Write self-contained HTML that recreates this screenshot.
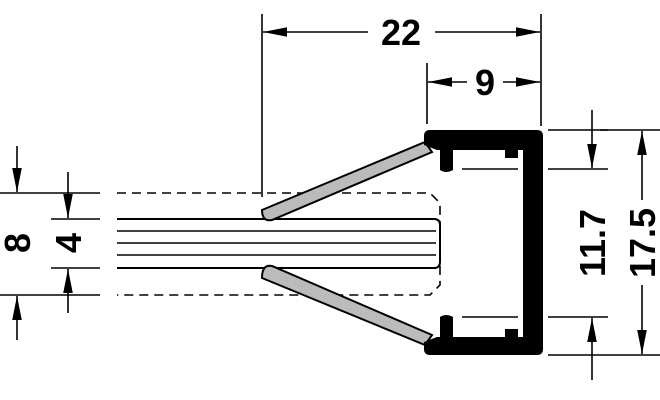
<!DOCTYPE html>
<html><head><meta charset="utf-8"><style>body{margin:0;background:#fff}svg{display:block}</style></head>
<body>
<svg width="660" height="400" viewBox="0 0 660 400" xmlns="http://www.w3.org/2000/svg" font-family="Liberation Sans, sans-serif" font-weight="bold">
<defs>
<marker id="b" viewBox="0 0 20 10" refX="20" refY="5" markerWidth="24" markerHeight="12" markerUnits="userSpaceOnUse" orient="auto-start-reverse"><path d="M0,1 L20,5 L0,9z" fill="#000"/></marker>
</defs>
<g stroke="#000" stroke-width="1.6" fill="none">
<line x1="262" y1="14" x2="262" y2="197"/>
<line x1="541" y1="14" x2="541" y2="126"/>
<line x1="427" y1="63" x2="427" y2="124"/>
<line x1="263" y1="32" x2="368" y2="32" marker-start="url(#b)"/>
<line x1="435" y1="32" x2="540" y2="32" marker-end="url(#b)"/>
<line x1="428" y1="82" x2="467" y2="82" marker-start="url(#b)"/>
<line x1="503" y1="82" x2="540" y2="82" marker-end="url(#b)"/>
<line x1="0" y1="193" x2="100" y2="193"/>
<line x1="0" y1="295" x2="100" y2="295"/>
<line x1="51" y1="219" x2="100" y2="219"/>
<line x1="51" y1="268" x2="100" y2="268"/>
<line x1="17" y1="146" x2="17" y2="192" marker-end="url(#b)"/>
<line x1="17" y1="340" x2="17" y2="296" marker-end="url(#b)"/>
<line x1="68" y1="172" x2="68" y2="218" marker-end="url(#b)"/>
<line x1="68" y1="313" x2="68" y2="269" marker-end="url(#b)"/>
<line x1="548" y1="130" x2="608" y2="130"/>
<line x1="600" y1="130" x2="660" y2="130"/>
<line x1="548" y1="169" x2="608" y2="169"/>
<line x1="462" y1="169" x2="518" y2="169"/>
<line x1="548" y1="317" x2="608" y2="317"/>
<line x1="462" y1="317" x2="518" y2="317"/>
<line x1="548" y1="355" x2="660" y2="355"/>
<line x1="592" y1="110" x2="592" y2="168" marker-end="url(#b)"/>
<line x1="592" y1="380" x2="592" y2="318" marker-end="url(#b)"/>
<line x1="642" y1="200" x2="642" y2="131" marker-end="url(#b)"/>
<line x1="642" y1="285" x2="642" y2="354" marker-end="url(#b)"/>
<path d="M117,193 H430 L440,203 V285 L430,295 H117" stroke-dasharray="9,6"/>
<line x1="117" y1="219" x2="436" y2="219" stroke-width="2"/>
<line x1="117" y1="268" x2="436" y2="268" stroke-width="2"/>
<path d="M434,219 Q440,219 440,225 V262 Q440,268 434,268" stroke-width="2"/>
<line x1="117" y1="231" x2="436" y2="231"/>
<line x1="117" y1="243" x2="436" y2="243"/>
<line x1="117" y1="255" x2="436" y2="255"/>
</g>
<g stroke="#000" stroke-width="2" fill="#bbb">
<path d="M262,210 L425,142 L432,152 L272,220 Q262,222 262,210z"/>
<path d="M262,278 L425,345 L432,335 L272,266 Q262,264 262,278z"/>
</g>
<path fill="#000" fill-rule="evenodd" d="M430,130 H537 Q543,130 543,136 V349 Q543,355 537,355 H430 Q424,355 424,349 V342 L437,337 H440 V317 Q446,313 453,317 V337 H523 V150 H453 V170 Q446,174 440,170 V150 H437 L424,145 V136 Q424,130 430,130z"/>
<rect x="505" y="150" width="13" height="8" fill="#000"/>
<rect x="505" y="329" width="13" height="8" fill="#000"/>
<g font-size="36" text-anchor="middle">
<text x="401" y="45">22</text>
<text x="485" y="95">9</text>
<text transform="translate(30,243) rotate(-90)">8</text>
<text transform="translate(81,243) rotate(-90)">4</text>
<text transform="translate(605,243) rotate(-90)">11.7</text>
<text transform="translate(655,243) rotate(-90)">17.5</text>
</g>
</svg>
</body></html>
